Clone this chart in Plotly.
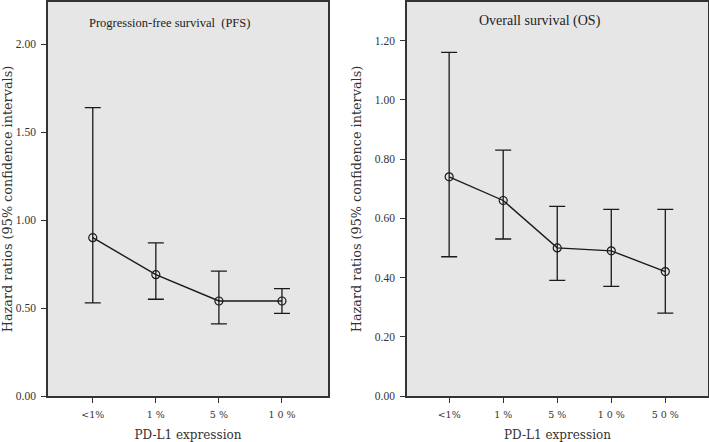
import plotly.graph_objects as go

# PFS panel
pfs_cats = ["<1%", "1 %", "5 %", "1 0 %"]
pfs_hr = [0.90, 0.69, 0.54, 0.54]
pfs_lo = [0.53, 0.55, 0.41, 0.47]
pfs_hi = [1.64, 0.87, 0.71, 0.61]

# OS panel
os_cats = ["<1%", "1 %", "5 %", "1 0 %", "5 0 %"]
os_hr = [0.74, 0.66, 0.50, 0.49, 0.42]
os_lo = [0.47, 0.53, 0.39, 0.37, 0.28]
os_hi = [1.16, 0.83, 0.64, 0.63, 0.63]

pfs_ticks = [0, 0.5, 1.0, 1.5, 2.0]
os_ticks = [0, 0.2, 0.4, 0.6, 0.8, 1.0, 1.2]

line_col = "#1a1a1a"
serif = "Liberation Serif, DejaVu Serif, serif"
wide = "DejaVu Serif, serif"


def panel(cats, hr, lo, hi, xa, ya):
    return go.Scatter(
        x=list(range(len(cats))), y=hr, xaxis=xa, yaxis=ya,
        mode="lines+markers",
        line=dict(color=line_col, width=1.4),
        marker=dict(symbol="circle-open", size=8, color=line_col, line=dict(width=1.2)),
        error_y=dict(type="data", symmetric=False,
                     array=[h - m for h, m in zip(hi, hr)],
                     arrayminus=[m - l for m, l in zip(hr, lo)],
                     color=line_col, thickness=1.3, width=8),
        showlegend=False, hoverinfo="skip",
    )


fig = go.Figure()
fig.add_trace(panel(pfs_cats, pfs_hr, pfs_lo, pfs_hi, "x", "y"))
fig.add_trace(panel(os_cats, os_hr, os_lo, os_hi, "x2", "y2"))

W, H = 709, 442
ydom = [(H - 396) / H, (H - 2) / H]

axis_common = dict(showgrid=False, zeroline=False, showline=True, mirror=True,
                   linecolor="#333333", linewidth=1.5, ticks="outside",
                   ticklen=5, tickcolor="#333333", automargin=False)
xtitle = dict(text="PD-L1 expression", standoff=13,
              font=dict(family=wide, size=12, color="#333333"))
ytitle = dict(text="Hazard ratios (95% confidence intervals)", standoff=10,
              font=dict(family=wide, size=12.8, color="#333333"))
xtick = dict(family=wide, size=9.5, color="#333333")
ytick = dict(family=serif, size=11.5, color="#333333")

fig.update_layout(
    width=W, height=H,
    margin=dict(l=0, r=0, t=0, b=0),
    paper_bgcolor="white", plot_bgcolor="#e6e6e6",
    xaxis=dict(domain=[48 / W, 328 / W], range=[-0.71, 3.73],
               tickvals=list(range(len(pfs_cats))), ticktext=pfs_cats,
               ticklabelstandoff=4,
               title=xtitle, tickfont=xtick, anchor="y", **axis_common),
    yaxis=dict(domain=ydom, range=[0, 2.24], tickvals=pfs_ticks,
               ticktext=[f"{v:.2f}" for v in pfs_ticks], ticklabelstandoff=3,
               title=ytitle, tickfont=ytick, anchor="x", **axis_common),
    xaxis2=dict(domain=[407 / W, 708 / W], range=[-0.78, 4.79],
                tickvals=list(range(len(os_cats))), ticktext=os_cats,
                ticklabelstandoff=4,
                title=xtitle, tickfont=xtick, anchor="y2", **axis_common),
    yaxis2=dict(domain=ydom, range=[0, 1.33], tickvals=os_ticks,
                ticktext=[f"{v:.2f}" for v in os_ticks], ticklabelstandoff=3,
                title=ytitle, tickfont=ytick, anchor="x2", **axis_common),
    annotations=[
        dict(text="Progression-free survival  (PFS)", x=1.22, y=2.12, xref="x", yref="y",
             showarrow=False, font=dict(family=serif, size=12.5, color="#222222")),
        dict(text="Overall survival (OS)", x=1.69, y=1.266, xref="x2", yref="y2",
             showarrow=False, font=dict(family=serif, size=14, color="#222222")),
    ],
)

# the page's default 8px body margin would push the figure off the window
fig.write_html("out.html", config={"displayModeBar": False},
               post_script="document.body.style.margin='0px';")
